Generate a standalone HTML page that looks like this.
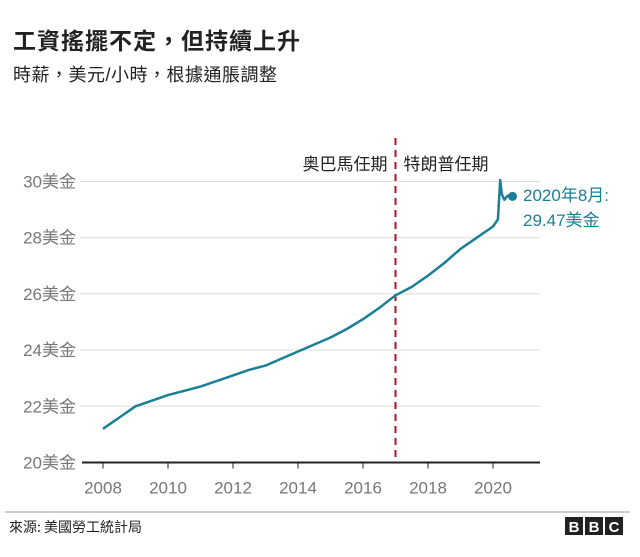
<!DOCTYPE html>
<html><head><meta charset="utf-8">
<style>
body{margin:0;background:#fff;font-family:"Liberation Sans","Noto Sans CJK TC",sans-serif;}
#wrap{position:relative;width:640px;height:557px;overflow:hidden;}
.t{position:absolute;white-space:nowrap;}
</style></head><body>
<div id="wrap">
<div class="t" style="left:13px;top:22px;font-size:23px;font-weight:bold;color:#222;letter-spacing:1px;">工資搖擺不定，但持續上升</div>
<div class="t" style="left:13px;top:61px;font-size:18px;color:#222;letter-spacing:0.5px;">時薪，美元/小時，根據通脹調整</div>
<svg id="chart" width="640" height="557" style="position:absolute;left:0;top:0"></svg>
</div>
<script>
const years=[2008,2008.5,2009,2009.5,2010,2010.5,2011,2011.5,2012,2012.5,2013,2013.5,2014,2014.5,2015,2015.5,2016,2016.5,2017,2017.5,2018,2018.5,2019,2019.5,2020,2020.15,2020.22,2020.27,2020.35,2020.45,2020.55,2020.6];
const wages=[21.2,21.6,22.0,22.2,22.4,22.55,22.7,22.9,23.1,23.3,23.45,23.7,23.95,24.2,24.45,24.75,25.1,25.5,25.95,26.25,26.65,27.1,27.6,28.0,28.4,28.65,30.05,29.55,29.35,29.5,29.45,29.47];
const yTicks=[20,22,24,26,28,30];
const xTicks=[2008,2010,2012,2014,2016,2018,2020];
const NS="http://www.w3.org/2000/svg";
const svg=document.getElementById('chart');
const X=v=>103+(v-2008)*32.5;
const Y=v=>462.5-(v-20)*28.1;
function mk(t,a){const e=document.createElementNS(NS,t);for(const k in a)e.setAttribute(k,a[k]);svg.appendChild(e);return e;}
yTicks.forEach(v=>{
 if(v>20){const g=mk('line',{x1:80,x2:540,y1:Y(v),y2:Y(v),stroke:'#ddd','stroke-width':1});
 
 }
 const t=mk('text',{x:76,y:Y(v)+6,'text-anchor':'end','font-size':17,fill:'#777','font-family':'Liberation Sans, Noto Sans CJK TC, sans-serif'});
 t.textContent=v+'美金';
 
 
});
const ax=mk('line',{x1:82,x2:540,y1:Y(20),y2:Y(20),stroke:'#222','stroke-width':2});


xTicks.forEach(v=>{
 const tk=mk('line',{x1:X(v),x2:X(v),y1:Y(20),y2:Y(20)+6,stroke:'#222','stroke-width':1});
 
 
 const t=mk('text',{x:X(v),y:Y(20)+31,'text-anchor':'middle','font-size':17,fill:'#777','font-family':'Liberation Sans, sans-serif'});
 t.textContent=v;
 
 
});
const dl=mk('line',{x1:X(2017),x2:X(2017),y1:138,y2:Y(20),stroke:'#b0101c','stroke-width':2,'stroke-dasharray':'7,5'});


const l1=mk('text',{x:X(2017)-8,y:170,'text-anchor':'end','font-size':17,fill:'#222','font-family':'Noto Sans CJK TC, sans-serif'});
l1.textContent='奥巴馬任期';


const l2=mk('text',{x:X(2017)+8,y:170,'font-size':17,fill:'#222','font-family':'Noto Sans CJK TC, sans-serif'});
l2.textContent='特朗普任期';


const p=mk('path',{d:years.map((v,i)=>(i?'L':'M')+X(v).toFixed(1)+','+Y(wages[i]).toFixed(1)).join(''),fill:'none',stroke:'#1a7f96','stroke-width':2.5,'stroke-linejoin':'round'});


const li=years.length-1;
const dot=mk('circle',{cx:X(years[li]),cy:Y(wages[li]),r:4.5,fill:'#1a7f96'});


const a1=mk('text',{x:523,y:201,'font-size':17,fill:'#1a7f96','font-family':'Liberation Sans, Noto Sans CJK TC, sans-serif'});
a1.textContent='2020年8月:';


const a2=mk('text',{x:523,y:226,'font-size':17,fill:'#1a7f96','font-family':'Liberation Sans, Noto Sans CJK TC, sans-serif'});
a2.textContent='29.47美金';


const fl=mk('line',{x1:5,x2:630,y1:512,y2:512,stroke:'#999','stroke-width':1});


const src=mk('text',{x:9,y:532,'font-size':14,fill:'#222','font-family':'Noto Sans CJK TC, sans-serif'});
src.textContent='來源:  美國勞工統計局';


['B','B','C'].forEach((c,i)=>{
 const r=mk('rect',{x:565+i*20,y:517,width:18,height:18,fill:'#222'});
 
 
 const t=mk('text',{x:574+i*20,y:532,'text-anchor':'middle','font-size':15,'font-weight':'bold',fill:'#fff','font-family':'Liberation Sans, sans-serif'});
 t.textContent=c;
 
 
});
</script>
</body></html>
